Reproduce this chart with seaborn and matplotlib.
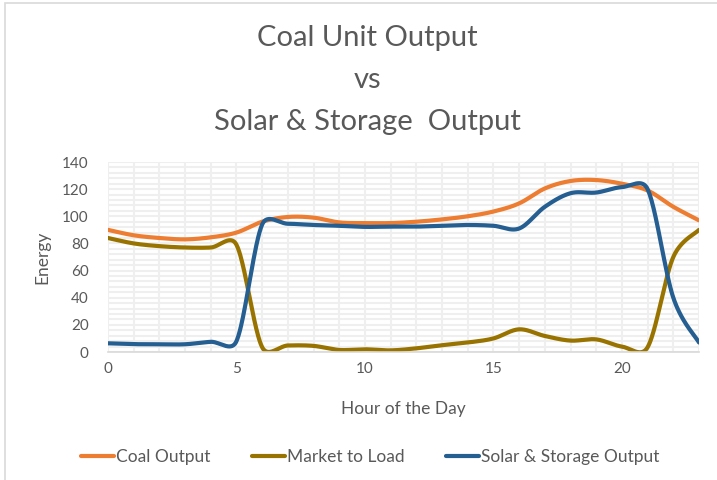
"""
Coal unit output vs solar & storage output over one day.

"""
import numpy as np
import pandas as pd
import matplotlib
matplotlib.use('Agg')
import matplotlib.pyplot as plt
from matplotlib.patches import Rectangle
import seaborn as sns

hours = list(range(24))

coal_output = [90, 86, 84, 83, 84.5, 88, 96, 99.5, 99, 95.5, 95, 95,
               96, 97.7, 100, 103.5, 109.5, 120.5, 126, 126.7, 124, 119, 107, 97]

market_to_load = [84, 80, 78, 77, 77, 79, 3.5, 4.8, 4.5, 1.5, 2, 1.2,
                  2.7, 5, 7, 10, 16.7, 11.8, 8.4, 9.3, 4, 3.5, 70, 90]

solar_storage = [6.4, 5.8, 5.7, 5.7, 7.5, 8, 94, 94.5, 93.6, 93, 92.2, 92.4,
                 92.4, 93, 93.6, 93, 91, 107, 117, 117.5, 121.5, 120, 40, 7]

series_names = ['Coal Output', 'Market to Load', 'Solar & Storage Output']
series_colors = ['#ED7D31', '#997300', '#255E91']

title = 'Coal Unit Output\nvs\nSolar & Storage  Output'
text_color = '#595959'

# pixels per unit on screen, used so the smoothing behaves like Excel's
PX_X = 25.65
PX_Y = 1.357


def smooth(x, y, n=40):
    """
    Excel style smoothed line: bezier through each point, control points
    limited to half of the segment length (in screen space).
    """
    pts = np.column_stack([np.asarray(x, float) * PX_X, np.asarray(y, float) * PX_Y])
    pts = np.vstack([pts[0], pts, pts[-1]])
    t = np.linspace(0, 1, n)[:, None]
    out = []
    for i in range(1, len(pts) - 2):
        p0, p1, p2, p3 = pts[i - 1], pts[i], pts[i + 1], pts[i + 2]
        d02 = np.linalg.norm(p2 - p0)
        d12 = np.linalg.norm(p2 - p1)
        d13 = np.linalg.norm(p3 - p1)
        f0 = 1 / 6 if d02 / 6 < d12 / 2 else d12 / d02 / 2
        f1 = 1 / 6 if d13 / 6 < d12 / 2 else d12 / d13 / 2
        b1 = p1 + (p2 - p0) * f0
        b2 = p2 - (p3 - p1) * f1
        seg = ((1 - t) ** 3) * p1 + 3 * ((1 - t) ** 2) * t * b1 \
            + 3 * (1 - t) * t ** 2 * b2 + t ** 3 * p2
        out.append(seg)
    out = np.vstack(out)
    return out[:, 0] / PX_X, out[:, 1] / PX_Y


frames = []
for name, values in zip(series_names, [coal_output, market_to_load, solar_storage]):
    sx, sy = smooth(hours, values)
    frames.append(pd.DataFrame({'Hour': sx, 'Energy': sy, 'Series': name}))
data = pd.concat(frames, ignore_index=True)

sns.set_theme(style='white')
plt.rcParams['font.family'] = ['Lato', 'DejaVu Sans']

fig = plt.figure(figsize=(7.17, 4.8), dpi=100)
ax = fig.add_axes([108 / 717, 1 - 352 / 480, (699 - 108) / 717, (352 - 162) / 480])

sns.lineplot(data=data, x='Hour', y='Energy', hue='Series', sort=False,
             palette=dict(zip(series_names, series_colors)), linewidth=3,
             ax=ax, legend=False)

ax.set_xlim(0, 23)
ax.set_ylim(0, 140)
ax.set_xticks([0, 5, 10, 15, 20])
ax.set_yticks(range(0, 141, 20))
ax.set_xticks(hours, minor=True)
ax.set_yticks(range(0, 141, 4), minor=True)
ax.grid(which='both', color='#efefef', linewidth=1.5)
ax.set_axisbelow(True)
ax.tick_params(which='both', length=0, colors=text_color, labelsize=11)
ax.tick_params(axis='y', pad=14)
ax.tick_params(axis='x', pad=7)

for side in ['left', 'top', 'right']:
    ax.spines[side].set_visible(False)
ax.spines['bottom'].set_color('#d9d9d9')
ax.spines['bottom'].set_linewidth(1.2)

ax.set_xlabel('Hour of the Day', fontsize=12.5, color=text_color, labelpad=18)
ax.set_ylabel('Energy', fontsize=12.5, color=text_color, labelpad=8)

fig.text(0.512, 1 - 80 / 480, title, ha='center', va='center',
         fontsize=21, color=text_color, linespacing=1.76)

handles = [plt.Line2D([], [], color=c, linewidth=3) for c in series_colors]
fig.legend(handles, series_names, loc='center', bbox_to_anchor=(0.516, 0.048),
           ncol=3, frameon=False, fontsize=12.5, handlelength=1.9,
           handletextpad=0.1, columnspacing=2.4, labelcolor=text_color)

fig.patches.append(Rectangle((5 / 717, -0.1), 2, 1.1 - 3 / 480,
                             transform=fig.transFigure, fill=False,
                             edgecolor='#d9d9d9', linewidth=1.2))

fig.savefig('out.png', dpi=100)
